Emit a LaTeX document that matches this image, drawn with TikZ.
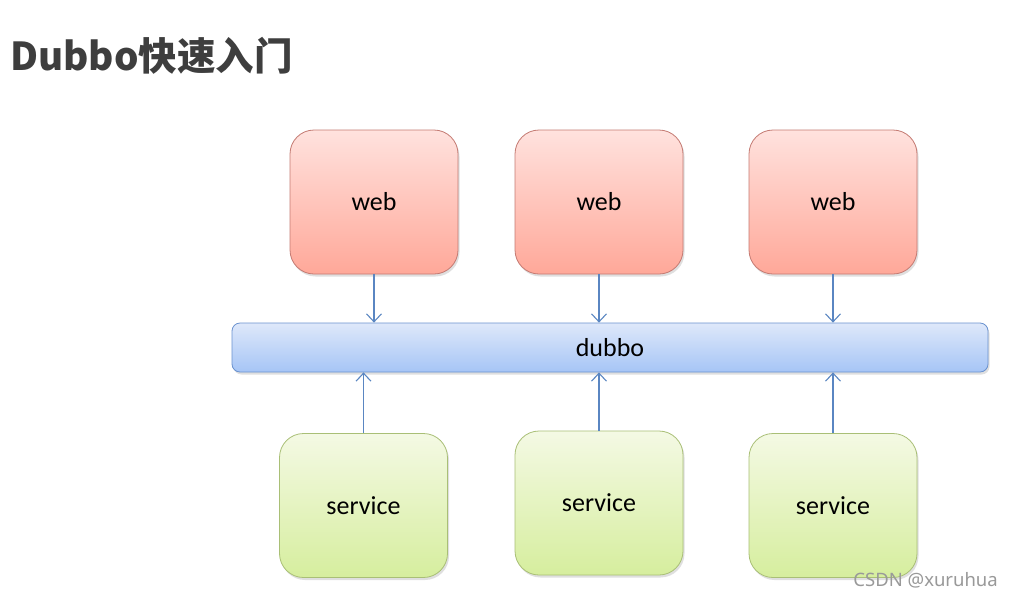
\documentclass[tikz,border=0pt]{standalone}
\usepackage{fontspec}
\setmainfont{Carlito}
\newfontfamily\cjkfont{Noto Sans CJK SC}
\newfontfamily\markfont{Noto Sans}
\usetikzlibrary{arrows.meta,shadows}
\definecolor{webtop}{HTML}{FFE2DE}
\definecolor{webbot}{HTML}{FFA899}
\definecolor{webdraw}{HTML}{C47A72}
\definecolor{svctop}{HTML}{F4F9E4}
\definecolor{svcbot}{HTML}{D6EE9E}
\definecolor{svcdraw}{HTML}{A9BF76}
\definecolor{dubtop}{HTML}{DEE8FA}
\definecolor{dubbot}{HTML}{A6C5F6}
\definecolor{dubdraw}{HTML}{6A92CF}
\definecolor{arrowc}{HTML}{5A86C2}
\definecolor{titlec}{HTML}{3E3E3E}
\tikzset{
  box/.style={rounded corners=24pt, minimum width=168pt, minimum height=144pt, line width=0.8pt,
    font=\fontsize{26}{30}\selectfont, text=black,
    drop shadow={opacity=0.25, shadow xshift=1.5pt, shadow yshift=-2.5pt}},
  webbox/.style={box, draw=webdraw, top color=webtop, bottom color=webbot},
  svcbox/.style={box, draw=svcdraw, top color=svctop, bottom color=svcbot},
  busbox/.style={rounded corners=8pt, minimum width=756pt, minimum height=49pt, line width=0.8pt,
    draw=dubdraw, top color=dubtop, bottom color=dubbot, font=\fontsize{26}{30}\selectfont,
    drop shadow={opacity=0.25, shadow xshift=1.5pt, shadow yshift=-2.5pt}},
  link/.style={draw=arrowc, line width=1.1pt, -{Straight Barb[length=8pt,width=15pt,line width=1.1pt]}}
}
\begin{document}
\begin{tikzpicture}[x=1pt,y=-1pt]
\useasboundingbox[fill=white] (0,0) rectangle (1012,598);
\node[anchor=base west, inner sep=0, text=titlec, font=\cjkfont\bfseries\fontsize{38.5}{42}\selectfont] (title) at (10,70) {Dubbo快速入门};
\node[webbox] (w1) at (374,202) {web};
\node[webbox] (w2) at (599,202) {web};
\node[webbox] (w3) at (833,202) {web};
\node[busbox] (bus) at (610,347.5) {dubbo};
\node[svcbox] (s1) at (363.5,505.5) {service};
\node[svcbox] (s2) at (599,503) {service};
\node[svcbox] (s3) at (833,505.5) {service};
\draw[link] (w1.south) -- (w1.south |- bus.north);
\draw[link] (w2.south) -- (w2.south |- bus.north);
\draw[link] (w3.south) -- (w3.south |- bus.north);
\draw[link] (s1.north) -- (s1.north |- bus.south);
\draw[link] (s2.north) -- (s2.north |- bus.south);
\draw[link] (s3.north) -- (s3.north |- bus.south);
\node[anchor=base east, inner sep=0, text=black!40, font=\markfont\fontsize{18.5}{20}\selectfont] (mark) at (998,586) {CSDN @xuruhua};
\end{tikzpicture}
\end{document}
